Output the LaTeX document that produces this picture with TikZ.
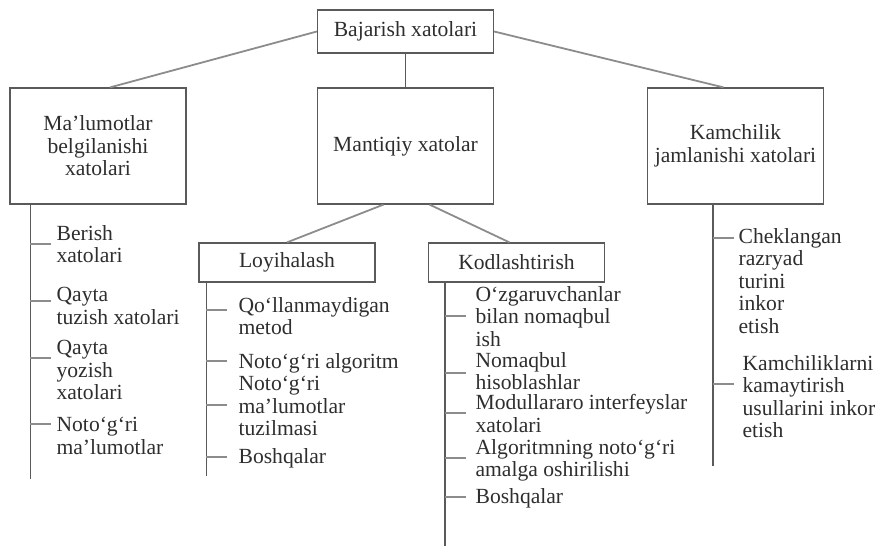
\documentclass[tikz,border=0pt]{standalone}
\usepackage{fontspec}
\setmainfont{Liberation Serif}
\usetikzlibrary{positioning, calc}
\definecolor{cline}{HTML}{5A5A5A}
\definecolor{clink}{HTML}{8C8C8C}
\definecolor{ctext}{HTML}{2E2E2E}
\tikzset{
  every picture/.style={line width=0.6pt},
  box/.style={draw=cline, align=center, inner sep=0pt, minimum width=88pt, minimum height=#1, text=ctext},
  box/.default=21.5pt,
  link/.style={draw=clink, line width=0.9pt},
  stem/.style={draw=cline, line width=0.6pt},
  tick/.style={draw=clink, line width=0.6pt},
  item/.style={anchor=north west, align=left, inner sep=0pt, text=ctext},
}
\begin{document}
\begin{tikzpicture}[x=0.5pt, y=-0.5pt, every node/.append style={font=\fontsize{10.8}{11.2}\selectfont}]
  \useasboundingbox (0,0) rectangle (875,549);
  % boxes
  \node[box] (root) at (405.5,31.5) {Bajarish xatolari};
  \node[box=58pt] (data) at (98,146) {Ma’lumotlar\\belgilanishi\\xatolari};
  \node[box=58pt] (logic) at (405.5,146) {Mantiqiy xatolar};
  \node[box=58pt] (accum) at (735.5,146) {Kamchilik\\jamlanishi xatolari};
  \node[box=19.5pt] (design) at (287,262.5) {Loyihalash};
  \node[box=19.5pt] (coding) at (516.5,262.5) {Kodlashtirish};
  % links
  \draw[link] (root.west) -- ($(data.north)+(12,0)$);
  \draw[stem] (root.south) -- (logic.north);
  \draw[link] (root.east) -- ($(accum.north)+(-12,0)$);
  \draw[link] ($(logic.south)+(-22,0)$) -- (design.north);
  \draw[link] ($(logic.south)+(24,0)$) -- ($(coding.north)+(-7,0)$);
  % stems
  \coordinate (sData) at ($(data.south west)+(21,0)$);
  \coordinate (sDesign) at ($(design.south west)+(8,0)$);
  \coordinate (sCoding) at ($(coding.south west)+(17,0)$);
  \coordinate (sAccum) at ($(accum.south west)+(66,0)$);
  \draw[stem] (sData) -- ++(0,274);
  \draw[stem] (sDesign) -- ++(0,193);
  \draw[stem] (sCoding) -- ++(0,263);
  \draw[stem] (sAccum) -- ++(0,261);
  % left column
  \node[item] (d1) at (56,225) {Berish\\xatolari};
  \node[item] (d2) at (56,287) {Qayta\\tuzish xatolari};
  \node[item] (d3) at (56,340) {Qayta\\yozish\\xatolari};
  \node[item] (d4) at (56,417) {Noto‘g‘ri\\ma’lumotlar};
  \foreach \t in {244,301,358,424} \draw[tick] (sData |- 0,\t) -- ++(21,0);
  % design column
  \node[item] (g1) at (238,297) {Qo‘llanmaydigan\\metod};
  \node[item] (g2) at (238,353) {Noto‘g‘ri algoritm};
  \node[item] (g3) at (238,376) {Noto‘g‘ri\\ma’lumotlar\\tuzilmasi};
  \node[item] (g4) at (238,448) {Boshqalar};
  \foreach \t in {310,361,405,457} \draw[tick] (sDesign |- 0,\t) -- ++(21,0);
  % coding column
  \node[item] (c1) at (475,286) {O‘zgaruvchanlar\\bilan nomaqbul\\ish};
  \node[item] (c2) at (475,352) {Nomaqbul\\hisoblashlar};
  \node[item] (c3) at (475,394) {Modullararo interfeyslar\\xatolari};
  \node[item] (c4) at (475,439) {Algoritmning noto‘g‘ri\\amalga oshirilishi};
  \node[item] (c5) at (475,488) {Boshqalar};
  \foreach \t in {316,373,413,458,497} \draw[tick] (sCoding |- 0,\t) -- ++(21,0);
  % right column
  \node[item] (a1) at (738,228) {Cheklangan\\razryad\\turini\\inkor\\etish};
  \node[item] (a2) at (742,355) {Kamchiliklarni\\kamaytirish\\usullarini inkor\\etish};
  \foreach \t in {238,384} \draw[tick] (sAccum |- 0,\t) -- ++(21,0);
\end{tikzpicture}
\end{document}
